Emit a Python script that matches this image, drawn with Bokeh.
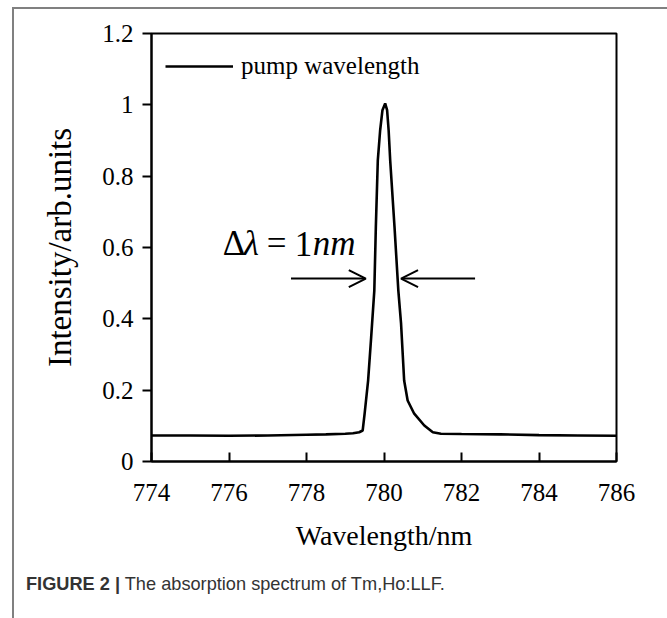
from bokeh.plotting import figure
from bokeh.models import (Arrow, OpenHead, Label, Legend, LegendItem, FixedTicker, Div)
from bokeh.layouts import column
from bokeh.embed import file_html
from bokeh.resources import INLINE

# ---- data ----
wavelength = [774, 775, 776, 777, 778, 778.5, 779, 779.2, 779.36, 779.45, 779.5, 779.59,
              779.67, 779.75, 779.79, 779.84, 779.9, 779.96, 780.03, 780.08, 780.12, 780.16,
              780.27, 780.37, 780.44, 780.52, 780.61, 780.78, 781.04, 781.26, 781.47, 782,
              783, 784, 785, 786]
intensity = [0.073, 0.073, 0.072, 0.073, 0.075, 0.076, 0.078, 0.079, 0.082, 0.087, 0.134, 0.227,
             0.35, 0.479, 0.66, 0.844, 0.928, 0.985, 1.004, 0.985, 0.928, 0.844,
             0.66, 0.479, 0.387, 0.227, 0.171, 0.134, 0.101, 0.082, 0.078, 0.077,
             0.076, 0.074, 0.073, 0.072]
x_ticks = [774, 776, 778, 780, 782, 784, 786]
y_ticks = [0, 0.2, 0.4, 0.6, 0.8, 1.0, 1.2]
y_tick_labels = ["0", "0.2", "0.4", "0.6", "0.8", "1", "1.2"]
series_name = "pump wavelength"
fwhm_parts = ["Δ", "λ", "=", "1", "nm"]
fwhm_styles = ["normal", "italic", "normal", "normal", "italic"]
fwhm_pos = (775.84, 0.611)
arrow_y = 0.513
arrow_left = (777.6, 779.53)
arrow_right = (782.35, 780.44)

SERIF = "Liberation Serif"

p = figure(width=648, height=547, x_range=(774, 786), y_range=(0, 1.2),
           output_backend="svg", toolbar_location=None,
           min_border_left=137, min_border_right=46, min_border_top=24, min_border_bottom=95)
p.xgrid.visible = False
p.ygrid.visible = False
p.outline_line_color = "black"
p.outline_line_width = 2
p.background_fill_color = "white"
p.border_fill_color = "white"

r = p.line(wavelength, intensity, line_color="black", line_width=2.6)

for ax in (p.xaxis[0], p.yaxis[0]):
    ax.axis_line_width = 2
    ax.axis_line_color = "black"
    ax.major_tick_line_width = 2
    ax.major_tick_line_color = "black"
    ax.minor_tick_line_color = None
    ax.major_label_text_font = SERIF
    ax.major_label_text_font_size = "25px"
    ax.major_label_text_color = "black"
    ax.axis_label_text_font = SERIF
    ax.axis_label_text_font_style = "normal"
    ax.axis_label_text_color = "black"

p.xaxis.ticker = FixedTicker(ticks=x_ticks)
p.xaxis.major_tick_in = 9
p.xaxis.major_tick_out = 0
p.xaxis.major_label_standoff = 22
p.xaxis.axis_label = "Wavelength/nm"
p.xaxis.axis_label_text_font_size = "28px"
p.xaxis.axis_label_standoff = 16

p.yaxis.ticker = FixedTicker(ticks=y_ticks)
p.yaxis.major_label_overrides = {t: l for t, l in zip(y_ticks, y_tick_labels)}
p.yaxis.major_tick_in = 0
p.yaxis.major_tick_out = 9
p.yaxis.major_label_standoff = 9
p.yaxis.axis_label = "Intensity/arb.units"
p.yaxis.axis_label_text_font_size = "33px"
p.yaxis.axis_label_standoff = 21

legend = Legend(items=[LegendItem(label=series_name, renderers=[r])], location="top_left",
                margin=14, padding=7, border_line_color=None, background_fill_alpha=0,
                glyph_width=68, glyph_height=38, label_height=38, label_standoff=8,
                label_text_font=SERIF, label_text_font_size="25px", label_text_color="black")
p.add_layout(legend)

for xs, xe in (arrow_left, arrow_right):
    p.add_layout(Arrow(end=OpenHead(size=17, line_width=2, line_color="black"),
                       x_start=xs, y_start=arrow_y, x_end=xe, y_end=arrow_y,
                       line_width=2, line_color="black"))

offsets = [0, 21, 44, 72, 90]
for t, off, st in zip(fwhm_parts, offsets, fwhm_styles):
    p.add_layout(Label(x=fwhm_pos[0], y=fwhm_pos[1], x_offset=off, text=t, text_font=SERIF,
                       text_font_style=st, text_font_size="35px", text_color="black",
                       text_baseline="alphabetic"))

cap = Div(text='<span style="font-weight:bold">FIGURE 2 |</span> The absorption spectrum of Tm,Ho:LLF.',
          width=644, height=62,
          styles={"font-family": "'Liberation Sans Narrow', 'Liberation Sans', Arial, sans-serif",
                  "font-size": "18.2px", "color": "#333333", "padding-left": "7px",
                  "padding-top": "10px"})

layout = column(p, cap, margin=(7, 0, 0, 12),
                styles={"border-left": "2px solid #808080", "border-top": "2px solid #808080",
                        "border-right": "2px solid #808080"})

open("out.html", "w").write(file_html(layout, INLINE))
